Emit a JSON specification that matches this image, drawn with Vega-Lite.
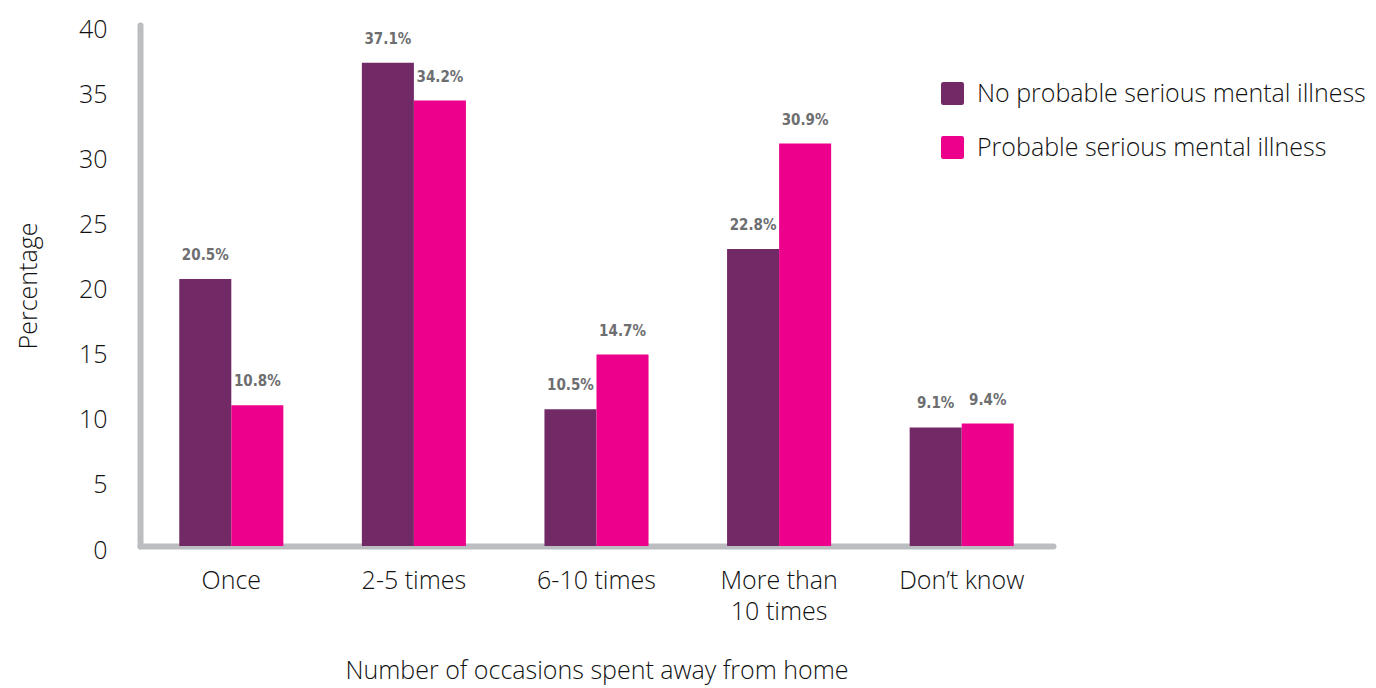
{
  "$schema": "https://vega.github.io/schema/vega-lite/v6.json",
  "width": 913,
  "height": 521,
  "autosize": {"type": "none"},
  "padding": {"left": 140, "top": 25, "right": 323, "bottom": 142},
  "background": "white",
  "config": {
    "view": {"stroke": null},
    "font": "Open Sans",
    "axis": {
      "domainColor": "#bcbdc1",
      "domainWidth": 6,
      "domainCap": "round",
      "ticks": false,
      "grid": false,
      "labelFont": "Open Sans",
      "labelFontWeight": 300,
      "labelColor": "#111111",
      "titleFont": "Open Sans",
      "titleFontWeight": 300,
      "titleColor": "#111111"
    }
  },
  "data": {
    "values": [
      {"occasions": "Once", "group": "No probable serious mental illness", "pct": 20.5},
      {"occasions": "Once", "group": "Probable serious mental illness", "pct": 10.8},
      {"occasions": "2-5 times", "group": "No probable serious mental illness", "pct": 37.1},
      {"occasions": "2-5 times", "group": "Probable serious mental illness", "pct": 34.2},
      {"occasions": "6-10 times", "group": "No probable serious mental illness", "pct": 10.5},
      {"occasions": "6-10 times", "group": "Probable serious mental illness", "pct": 14.7},
      {"occasions": "More than 10 times", "group": "No probable serious mental illness", "pct": 22.8},
      {"occasions": "More than 10 times", "group": "Probable serious mental illness", "pct": 30.9},
      {"occasions": "Don’t know", "group": "No probable serious mental illness", "pct": 9.1},
      {"occasions": "Don’t know", "group": "Probable serious mental illness", "pct": 9.4}
    ]
  },
  "encoding": {
    "x": {
      "field": "occasions",
      "type": "nominal",
      "sort": null,
      "scale": {"paddingInner": 0.43, "paddingOuter": 0.215},
      "title": "Number of occasions spent away from home",
      "axis": {
        "labelAngle": 0,
        "labelFontSize": 25,
        "labelPadding": 22,
        "labelLineHeight": 31,
        "labelExpr": "datum.label == 'More than 10 times' ? ['More than', '10 times'] : datum.label",
        "titleFontSize": 25,
        "titlePadding": 34
      }
    },
    "xOffset": {
      "field": "group",
      "type": "nominal",
      "scale": {"paddingInner": 0, "paddingOuter": 0}
    },
    "y": {
      "field": "pct",
      "type": "quantitative",
      "scale": {"domain": [0, 40]},
      "title": "Percentage",
      "axis": {
        "values": [0, 5, 10, 15, 20, 25, 30, 35, 40],
        "labelFontSize": 25,
        "labelPadding": 33,
        "labelOffset": 4,
        "titleFontSize": 25,
        "titlePadding": 37
      }
    }
  },
  "layer": [
    {
      "mark": {"type": "bar"},
      "encoding": {
        "color": {
          "field": "group",
          "type": "nominal",
          "scale": {
            "domain": ["No probable serious mental illness", "Probable serious mental illness"],
            "range": ["#722a66", "#ec008c"]
          },
          "legend": {
            "title": null,
            "orient": "none",
            "legendX": 800,
            "legendY": 56,
            "symbolType": "M-0.8,-1H0.8Q1,-1 1,-0.8V0.8Q1,1 0.8,1H-0.8Q-1,1 -1,0.8V-0.8Q-1,-1 -0.8,-1Z",
            "symbolSize": 529,
            "symbolStrokeWidth": 0,
            "symbolOpacity": 1,
            "labelFontSize": 25,
            "labelFont": "Open Sans",
            "labelFontWeight": 300,
            "labelColor": "#111111",
            "labelOffset": 12,
            "labelLimit": 0,
            "rowPadding": 28
          }
        }
      }
    },
    {
      "transform": [
        {"calculate": "format(datum.pct, '.1f') + '%'", "as": "label"}
      ],
      "mark": {
        "type": "text",
        "baseline": "bottom",
        "dy": -16,
        "font": "Liberation Sans Narrow, DejaVu Sans Condensed, Liberation Sans",
        "fontWeight": "bold",
        "fontSize": 15,
        "color": "#6d6e70"
      },
      "encoding": {
        "text": {"field": "label", "type": "nominal"},
        "detail": {"field": "group"}
      }
    }
  ]
}
